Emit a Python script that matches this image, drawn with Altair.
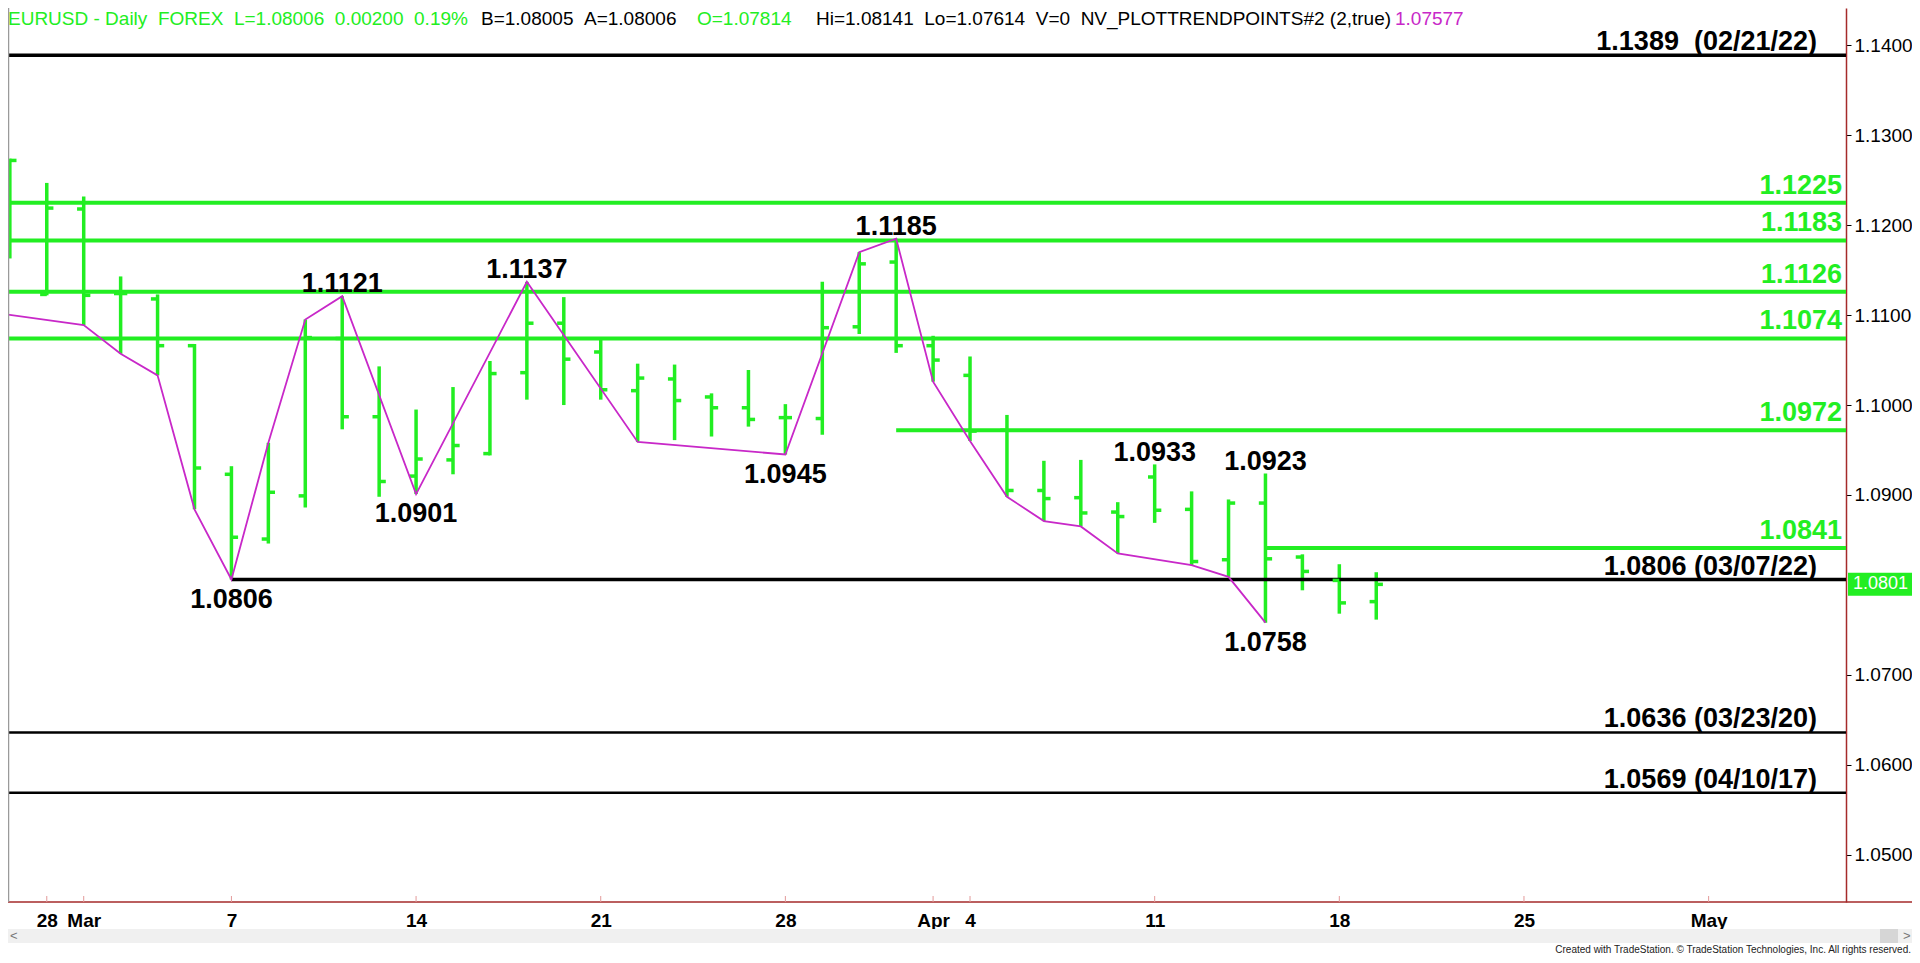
import altair as alt
import pandas as pd

# ---------------- data ----------------
dates = ["2022-02-25", "2022-02-28", "2022-03-01", "2022-03-02", "2022-03-03", "2022-03-04",
         "2022-03-07", "2022-03-08", "2022-03-09", "2022-03-10", "2022-03-11",
         "2022-03-14", "2022-03-15", "2022-03-16", "2022-03-17", "2022-03-18",
         "2022-03-21", "2022-03-22", "2022-03-23", "2022-03-24", "2022-03-25",
         "2022-03-28", "2022-03-29", "2022-03-30", "2022-03-31", "2022-04-01",
         "2022-04-04", "2022-04-05", "2022-04-06", "2022-04-07", "2022-04-08",
         "2022-04-11", "2022-04-12", "2022-04-13", "2022-04-14", "2022-04-15",
         "2022-04-18", "2022-04-19"]
opens = [1.1193, 1.1123, 1.1218, 1.1124, 1.1118, 1.1066, 1.0923, 1.0851, 1.0899, 1.1074,
         1.0987, 1.0921, 1.0939, 1.0946, 1.1036, 1.1091, 1.1059, 1.1016, 1.1029, 1.1009,
         1.0997, 1.0986, 1.0985, 1.1087, 1.1159, 1.1066, 1.1033, 1.0972, 1.0905, 1.0897,
         1.0881, 1.0920, 1.0884, 1.0828, 1.0891, 1.0831, 1.0805, 1.07814]
highs = [1.1274, 1.1247, 1.1232, 1.1143, 1.1123, 1.1068, 1.0932, 1.0958, 1.1095, 1.1121,
         1.1043, 1.0995, 1.1020, 1.1049, 1.1137, 1.1120, 1.1073, 1.1046, 1.1045, 1.1013,
         1.1039, 1.1001, 1.1137, 1.1170, 1.1185, 1.1077, 1.1054, 1.0989, 1.0938, 1.0939,
         1.0892, 1.0934, 1.0904, 1.0895, 1.0924, 1.0834, 1.0823, 1.08141]
lows = [1.1163, 1.1122, 1.1089, 1.1057, 1.1033, 1.0884, 1.0806, 1.0846, 1.0886, 1.0973,
        1.0898, 1.0901, 1.0923, 1.0944, 1.1006, 1.1000, 1.1006, 1.0959, 1.0961, 1.0965,
        1.0976, 1.0945, 1.0967, 1.1079, 1.1058, 1.1026, 1.0960, 1.0898, 1.0871, 1.0865,
        1.0835, 1.0869, 1.0822, 1.0809, 1.0758, 1.0794, 1.0768, 1.07614]
closes = [1.1272, 1.1219, 1.1122, 1.1124, 1.1066, 1.0930, 1.0853, 1.0903, 1.1075, 1.0987,
          1.0915, 1.0940, 1.0955, 1.1035, 1.1091, 1.1051, 1.1017, 1.1030, 1.1005, 1.0997,
          1.0984, 1.0986, 1.1086, 1.1157, 1.1066, 1.1050, 1.0971, 1.0905, 1.0896, 1.0880,
          1.0876, 1.0883, 1.0826, 1.0891, 1.0829, 1.0815, 1.0780, 1.08006]
assert len(dates) == len(opens) == len(highs) == len(lows) == len(closes)

# trading-day index: 0 = Feb 28
bar_index = list(range(-1, len(dates) - 1))

# NV_PLOTTRENDPOINTS swing line
trend_idx = [-2, 1, 2, 3, 4, 5, 6, 7, 8, 10, 13, 16, 20, 22, 23, 24, 25, 26, 27, 28, 29, 31, 32, 33]
trend_val = [1.1106, 1.1089, 1.1057, 1.1033, 1.0884, 1.0806, 1.0958, 1.1095, 1.1121, 1.0901,
             1.1137, 1.0959, 1.0945, 1.1170, 1.1185, 1.1026, 1.0960, 1.0898, 1.0871, 1.0865,
             1.0835, 1.0822, 1.0809, 1.0758]

# swing labels
high_idx = [8, 13, 23, 30, 33]
high_val = [1.1121, 1.1137, 1.1185, 1.0933, 1.0923]
low_idx = [5, 10, 20, 33]
low_val = [1.0806, 1.0901, 1.0945, 1.0758]

# green levels (start bar index, None = full width)
green_levels = [1.1225, 1.1183, 1.1126, 1.1074, 1.0972, 1.0841]
green_start = [None, None, None, None, 23, 33]

# black reference levels
black_levels = [1.1389, 1.0806, 1.0636, 1.0569]
black_labels = ["1.1389 \u00a0(02/21/22)", "1.0806 (03/07/22)", "1.0636 (03/23/20)", "1.0569 (04/10/17)"]
black_start = [None, 5, None, None]

# axis ticks
x_tick_idx = [0, 1, 5, 10, 15, 20, 24, 25, 30, 35, 40, 45]
x_tick_lab = ["28", "Mar", "7", "14", "21", "28", "Apr", "4", "11", "18", "25", "May"]
y_ticks = [1.05, 1.06, 1.07, 1.09, 1.10, 1.11, 1.12, 1.13, 1.14]

S2 = " \u00a0"  # visible double space
header_parts = [
    ("EURUSD - Daily" + S2 + "FOREX" + S2 + "L=1.08006" + S2 + "0.00200" + S2 + "0.19%", "green"),
    ("B=1.08005" + S2 + "A=1.08006", "black"),
    ("O=1.07814", "green"),
    ("Hi=1.08141" + S2 + "Lo=1.07614" + S2 + "V=0" + S2 + "NV_PLOTTRENDPOINTS#2 (2,true)", "black"),
    ("1.07577", "pink"),
]
footer = "Created with TradeStation. \u00a9 TradeStation Technologies, Inc. All rights reserved."

# ---------------- styling ----------------
GREEN = "#22EE22"
PINK = "#C828C8"
MAROON = "#A52A2A"
FONT = "Liberation Sans, Arial, sans-serif"
NARROW = "Liberation Sans Narrow, Liberation Sans, Arial, sans-serif"
COLORS = {"green": GREEN, "black": "#000000", "pink": PINK}

X_MIN, X_MAX = -1.05, 48.72
Y_MIN, Y_MAX = 1.04474, 1.14415
W, H = 1838, 894

xsc = alt.Scale(domain=[X_MIN, X_MAX], nice=False, zero=False)
ysc = alt.Scale(domain=[Y_MIN, Y_MAX], nice=False, zero=False)

label_expr = "".join(f"datum.value == {v} ? '{l}' : " for v, l in zip(x_tick_idx, x_tick_lab)) + "''"

x_axis = alt.Axis(values=x_tick_idx, labelExpr=label_expr, orient="bottom", ticks=False,
                  domain=False, grid=False, labelPadding=9, labelFontSize=19,
                  labelFont=NARROW, labelFontWeight="bold", labelColor="black",
                  labelOverlap=False, labelFlush=False, title=None)
y_axis = alt.Axis(orient="right", values=y_ticks, format=".4f", grid=False, tickSize=5,
                  tickColor="black", tickWidth=1, domainColor=MAROON, domainWidth=1.5,
                  labelFontSize=19, labelFont=FONT, labelColor="black", labelPadding=3,
                  labelFlush=False, labelOverlap=False, title=None)


def X(f):
    return alt.X(f, type="quantitative", scale=xsc, axis=x_axis, title=None)


def Y(f):
    return alt.Y(f, type="quantitative", scale=ysc, axis=y_axis, title=None)


bars = pd.DataFrame({"date": dates, "idx": bar_index, "open": opens,
                     "high": highs, "low": lows, "close": closes})
trend = pd.DataFrame({"idx": trend_idx, "val": trend_val})
highs_df = pd.DataFrame({"idx": high_idx, "val": high_val})
lows_df = pd.DataFrame({"idx": low_idx, "val": low_val})
green_df = pd.DataFrame({"level": green_levels,
                         "start": [X_MIN if s is None else s for s in green_start],
                         "end": [X_MAX] * len(green_levels)})
black_df = pd.DataFrame({"level": black_levels, "label": black_labels,
                         "start": [X_MIN if s is None else s for s in black_start],
                         "end": [X_MAX] * len(black_levels)})
xt_df = pd.DataFrame({"idx": x_tick_idx, "lab": x_tick_lab})

# level lines
green_lines = alt.Chart(green_df).mark_rule(color=GREEN, strokeWidth=4).encode(
    x=X("start"), x2="end", y=Y("level"))
black_lines = alt.Chart(black_df).mark_rule(color="black").encode(
    x=X("start"), x2="end", y=Y("level"),
    strokeWidth=alt.condition("datum.level > 1.07", alt.value(3.5), alt.value(2.5)))

# OHLC bars
hl = alt.Chart(bars).mark_rule(color=GREEN, strokeWidth=3.5).encode(
    x=X("idx"), y=Y("low"), y2="high:Q")
open_t = alt.Chart(bars).transform_calculate(xo="datum.idx - 0.18").mark_rule(
    color=GREEN, strokeWidth=3.5).encode(x=X("xo"), x2="idx:Q", y=Y("open"))
close_t = alt.Chart(bars).transform_calculate(xc="datum.idx + 0.18").mark_rule(
    color=GREEN, strokeWidth=3.5).encode(x=X("idx"), x2="xc:Q", y=Y("close"))

trend_line = alt.Chart(trend).mark_line(color=PINK, strokeWidth=1.8, clip=True).encode(
    x=X("idx"), y=Y("val"), order="idx:Q")

green_txt = alt.Chart(green_df).mark_text(
    align="right", baseline="alphabetic", dy=-9, fontSize=27, fontWeight="bold",
    font=FONT, color=GREEN).encode(x=alt.value(1834), y=Y("level"),
                                   text=alt.Text("level:Q", format=".4f"))
black_txt = alt.Chart(black_df).mark_text(
    align="right", baseline="alphabetic", dy=-5, fontSize=27, fontWeight="bold",
    font=FONT, color="black").encode(x=alt.value(1809), y=Y("level"), text="label:N")

hi_txt = alt.Chart(highs_df).mark_text(
    align="center", baseline="alphabetic", dy=-4, fontSize=27, fontWeight="bold",
    font=FONT, color="black").encode(x=X("idx"), y=Y("val"),
                                     text=alt.Text("val:Q", format=".4f"))
lo_txt = alt.Chart(lows_df).mark_text(
    align="center", baseline="alphabetic", dy=28, fontSize=27, fontWeight="bold",
    font=FONT, color="black").encode(x=X("idx"), y=Y("val"),
                                     text=alt.Text("val:Q", format=".4f"))

# header
header_x = [0, 473, 689, 808, 1387]
header_layers = []
for (txt, col), hx in zip(header_parts, header_x):
    header_layers.append(
        alt.Chart(pd.DataFrame({"t": [txt]})).mark_text(
            align="left", baseline="alphabetic", fontSize=19, font=FONT,
            color=COLORS[col]).encode(x=alt.value(hx), y=alt.value(17), text="t:N"))

# last price marker
last_df = pd.DataFrame({"price": [closes[-1]]})
last_box = alt.Chart(last_df).mark_rule(color=GREEN, strokeWidth=23).encode(
    x=alt.value(1840), x2=alt.value(1904), y=Y("price"))
last_txt = alt.Chart(last_df).mark_text(
    align="left", baseline="middle", fontSize=18, font=FONT, color="white").encode(
    x=alt.value(1845), y=Y("price"), text=alt.Text("price:Q", format=".4f"))

# x-axis decorations
one = pd.DataFrame({"a": [0]})
x_line = alt.Chart(one).mark_rule(color=MAROON, strokeWidth=1.5).encode(
    x=alt.value(-8), x2=alt.value(1904), y=alt.value(H))
x_ticks = alt.Chart(xt_df).mark_rule(color="#E39A9A", strokeWidth=1).encode(
    x=X("idx"), y=alt.value(H - 6), y2=alt.value(H))
left_border = alt.Chart(one).mark_rule(color="#9A9A9A", strokeWidth=1.5).encode(
    x=alt.value(0.5), y=alt.value(0), y2=alt.value(H))

# scrollbar + footer
scroll = alt.Chart(one).mark_rect(color="#F0F0F0").encode(
    x=alt.value(-8), x2=alt.value(1904), y=alt.value(921), y2=alt.value(935))
thumb = alt.Chart(one).mark_rect(color="#D6D6D6").encode(
    x=alt.value(1872), x2=alt.value(1890), y=alt.value(921), y2=alt.value(935))
lt = alt.Chart(pd.DataFrame({"t": ["<"]})).mark_text(
    align="left", baseline="middle", fontSize=13, font=FONT, color="#777").encode(
    x=alt.value(2), y=alt.value(928), text="t:N")
gt = alt.Chart(pd.DataFrame({"t": [">"]})).mark_text(
    align="left", baseline="middle", fontSize=13, font=FONT, color="#777").encode(
    x=alt.value(1895), y=alt.value(928), text="t:N")
foot = alt.Chart(pd.DataFrame({"t": [footer]})).mark_text(
    align="right", baseline="alphabetic", fontSize=10, font=NARROW, color="#222").encode(
    x=alt.value(1903), y=alt.value(945), text="t:N")

chart = alt.layer(
    hl, green_lines, black_lines, open_t, close_t, trend_line,
    green_txt, black_txt, hi_txt, lo_txt,
    *header_layers,
    x_line, x_ticks, left_border, last_box, last_txt,
    scroll, thumb, lt, gt, foot,
).properties(
    width=W, height=H,
    padding={"left": 0, "top": 0, "right": 66, "bottom": 53},
    autosize=alt.AutoSizeParams(type="none"),
    background="white",
).configure_view(strokeWidth=0)

chart.save("out.html", embed_options={"renderer": "svg", "actions": False})
